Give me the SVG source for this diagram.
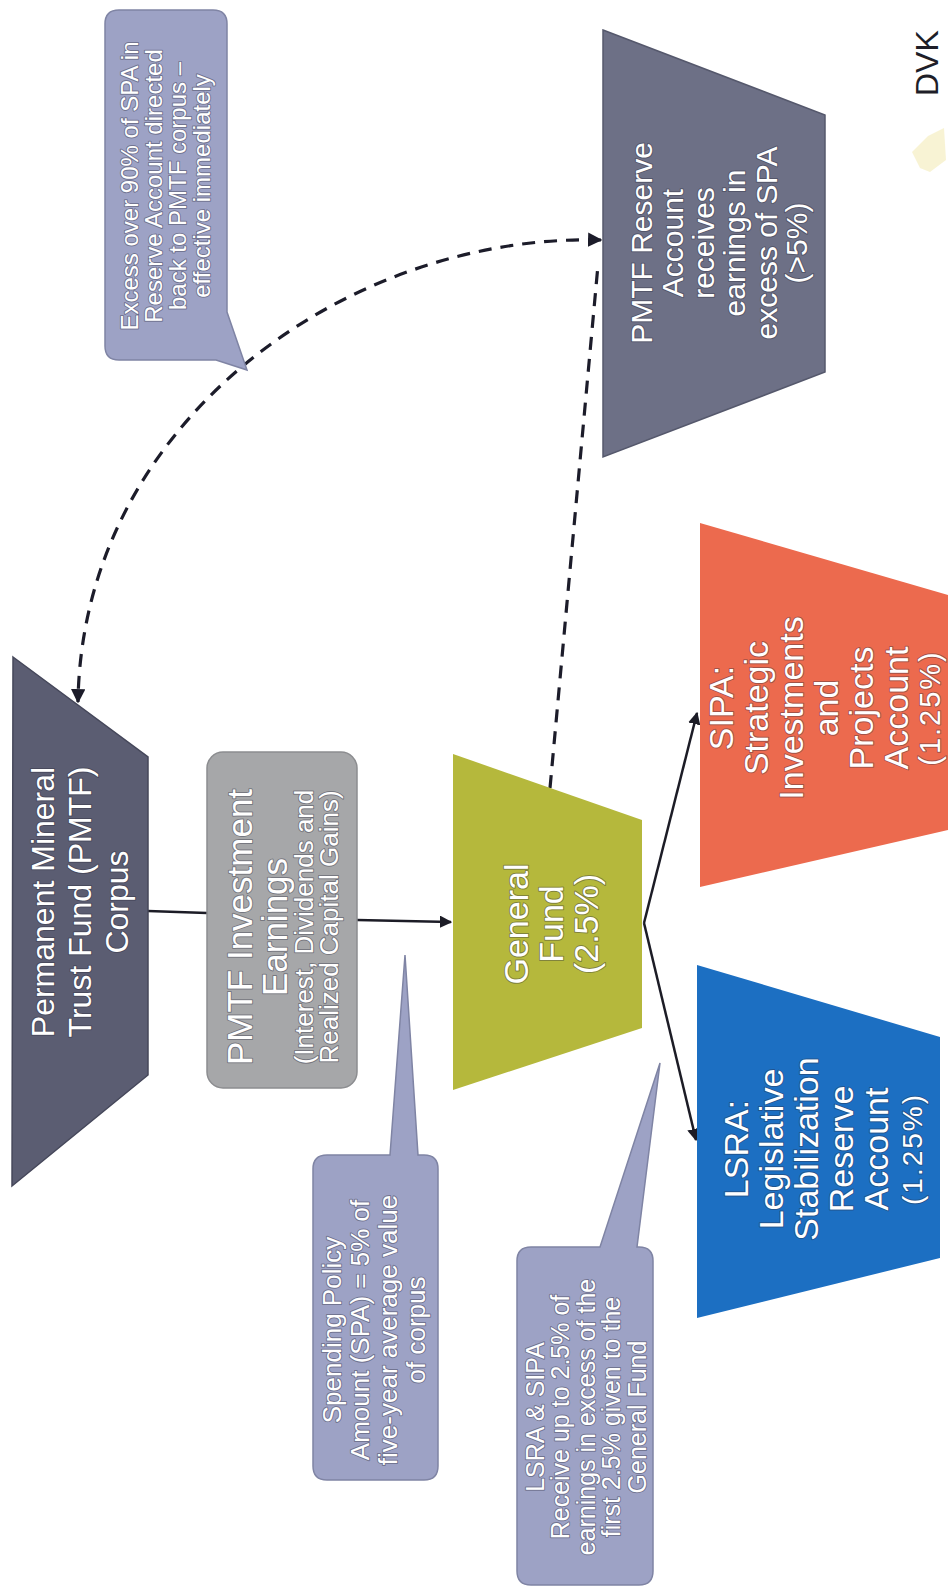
<svg xmlns="http://www.w3.org/2000/svg" width="948" height="1592" viewBox="0 0 948 1592">
<defs>
<style>
.t{font-family:"Liberation Sans",Arial,Helvetica,sans-serif;fill:#ffffff;stroke:#2b2b3c;stroke-width:2;stroke-opacity:.4;paint-order:stroke;stroke-linejoin:round}
.solid{fill:none;stroke:#1c1c26;stroke-width:2.5}
.dash{fill:none;stroke:#1c1c2a;stroke-width:3.2;stroke-dasharray:13 9}
.callout{fill:#9da2c5;stroke:#7f84a4;stroke-width:1.5}
</style>
<marker id="ah" viewBox="0 0 10 10" refX="9" refY="5" markerWidth="5" markerHeight="5" orient="auto-start-reverse" markerUnits="strokeWidth">
<path d="M0,0 L10,5 L0,10 Z" fill="#1c1c26" stroke="none"/>
</marker>
<marker id="ahd" viewBox="0 0 10 10" refX="9" refY="5" markerWidth="4.5" markerHeight="4.5" orient="auto-start-reverse" markerUnits="strokeWidth">
<path d="M0,0 L10,5 L0,10 Z" fill="#1c1c2a" stroke="none"/>
</marker>
</defs>
<rect width="948" height="1592" fill="#ffffff"/>

<g id="connectors">
<line class="solid" x1="148" y1="911" x2="207" y2="913"/>
<line class="solid" x1="357" y1="920" x2="451" y2="922" marker-end="url(#ah)"/>
<line class="solid" x1="644" y1="923" x2="697" y2="713" marker-end="url(#ah)"/>
<line class="solid" x1="644" y1="923" x2="696" y2="1140" marker-end="url(#ah)"/>
<path class="dash" d="M550,788 L598,265"/>
<path class="dash" d="M601,240 C350,233 82,420 78,702" marker-start="url(#ahd)" marker-end="url(#ahd)"/>
</g>

<g id="corpus">
<polygon points="13,657 148,757 148,1075 12,1186" fill="#5b5d72" stroke="#45475a" stroke-width="1.5"/>
<text class="t" font-size="32" text-anchor="middle" transform="translate(0,902) rotate(-90)"><tspan x="0" y="54">Permanent Mineral</tspan><tspan x="0" y="91">Trust Fund (PMTF)</tspan><tspan x="0" y="128">Corpus</tspan></text>
</g>

<g id="earnings">
<rect x="207" y="752" width="150" height="336" rx="16" fill="#a6a7a9" stroke="#8c8d90" stroke-width="1.5"/>
<text class="t" text-anchor="middle" transform="translate(0,927) rotate(-90)"><tspan x="0" y="252" font-size="35">PMTF Investment</tspan><tspan x="0" y="287" font-size="35">Earnings</tspan><tspan x="0" y="313" font-size="26">(Interest, Dividends and</tspan><tspan x="0" y="338" font-size="26">Realized Capital Gains)</tspan></text>
</g>

<g id="general-fund">
<polygon points="453,754 642,820 642,1028 453,1090" fill="#b5b83c"/>
<text class="t" font-size="34" text-anchor="middle" transform="translate(0,924) rotate(-90)"><tspan x="0" y="528">General</tspan><tspan x="0" y="563">Fund</tspan><tspan x="0" y="598">(2.5%)</tspan></text>
</g>

<g id="sipa">
<polygon points="700,523 948,595 948,830 700,887" fill="#ec6a4e"/>
<text class="t" font-size="34" text-anchor="middle" transform="translate(0,708) rotate(-90)"><tspan x="0" y="733">SIPA:</tspan><tspan x="0" y="768">Strategic</tspan><tspan x="0" y="803">Investments</tspan><tspan x="0" y="838">and</tspan><tspan x="0" y="873">Projects</tspan><tspan x="0" y="908">Account</tspan><tspan x="0" y="940" font-size="29" letter-spacing="2">(1.25%)</tspan></text>
</g>

<g id="lsra">
<polygon points="697,965 940,1037 940,1258 697,1318" fill="#1c6fc2"/>
<text class="t" font-size="34" text-anchor="middle" transform="translate(0,1149) rotate(-90)"><tspan x="0" y="748">LSRA:</tspan><tspan x="0" y="783">Legislative</tspan><tspan x="0" y="818">Stabilization</tspan><tspan x="0" y="853">Reserve</tspan><tspan x="0" y="888">Account</tspan><tspan x="0" y="922" font-size="28" letter-spacing="2">(1.25%)</tspan></text>
</g>

<g id="pmtf-reserve">
<polygon points="603,30 825,115 825,372 603,457" fill="#6d7086" stroke="#55586c" stroke-width="1.5"/>
<text class="t" font-size="30" text-anchor="middle" transform="translate(0,243) rotate(-90)"><tspan x="0" y="652">PMTF Reserve</tspan><tspan x="0" y="683">Account</tspan><tspan x="0" y="714">receives</tspan><tspan x="0" y="745">earnings in</tspan><tspan x="0" y="777">excess of SPA</tspan><tspan x="0" y="807">(&gt;5%)</tspan></text>
</g>

<g id="callout-spa">
<path class="callout" d="M327,1155 L390,1155 L405,955 L418,1155 L424,1155 Q438,1155 438,1169 L438,1466 Q438,1480 424,1480 L327,1480 Q313,1480 313,1466 L313,1169 Q313,1155 327,1155 Z"/>
<text class="t" font-size="26" text-anchor="middle" transform="translate(0,1330) rotate(-90)"><tspan x="0" y="341">Spending Policy</tspan><tspan x="0" y="369">Amount (SPA) = 5% of</tspan><tspan x="0" y="397">five-year average value</tspan><tspan x="0" y="425">of corpus</tspan></text>
</g>

<g id="callout-lsra-sipa">
<path class="callout" d="M531,1247 L600,1247 L660,1063 L637,1247 L639,1247 Q653,1247 653,1261 L653,1571 Q653,1585 639,1585 L531,1585 Q517,1585 517,1571 L517,1261 Q517,1247 531,1247 Z"/>
<text class="t" font-size="25" text-anchor="middle" transform="translate(0,1417) rotate(-90)"><tspan x="0" y="544">LSRA &amp; SIPA</tspan><tspan x="0" y="569">Receive up to 2.5% of</tspan><tspan x="0" y="595">earnings in excess of the</tspan><tspan x="0" y="620">first 2.5% given to the</tspan><tspan x="0" y="646">General Fund</tspan></text>
</g>

<g id="callout-excess">
<path class="callout" d="M119,10 L213,10 Q227,10 227,24 L227,312 L247,370 L216,360 L119,360 Q105,360 105,346 L105,24 Q105,10 119,10 Z"/>
<text class="t" font-size="24" text-anchor="middle" transform="translate(0,186) rotate(-90)"><tspan x="0" y="138">Excess over 90% of SPA in</tspan><tspan x="0" y="162">Reserve Account directed</tspan><tspan x="0" y="186">back to PMTF corpus –</tspan><tspan x="0" y="210">effective immediately</tspan></text>
</g>

<g id="logo-fragment">
<path d="M912,152 L928,136 L944,128 L946,160 L930,172 L920,168 Z" fill="#f0e4a0" opacity="0.45"/>
<text font-family="'Liberation Sans',Arial,sans-serif" font-size="32" fill="#1e1e28" transform="translate(0,96) rotate(-90)" x="0" y="938">DVK</text>
</g>
</svg>
